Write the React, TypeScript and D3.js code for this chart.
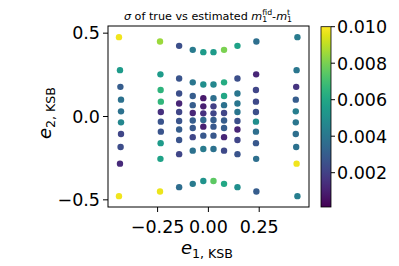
import React from "react";
import * as d3 from "d3";

// e1 of each point, one list per column (left to right), top row first
const e1ByCol = [
  [-0.44, -0.435, -0.433, -0.43, -0.43, -0.43, -0.43, -0.432, -0.435, -0.44],
  [-0.238, -0.236, -0.235, -0.234, -0.234, -0.234, -0.234, -0.235, -0.236, -0.238],
  [-0.144, -0.144, -0.144, -0.144, -0.144, -0.144, -0.144, -0.144, -0.144, -0.144],
  [-0.077, -0.077, -0.077, -0.077, -0.077, -0.077, -0.077, -0.077, -0.077, -0.077],
  [-0.025, -0.025, -0.025, -0.025, -0.025, -0.025, -0.025, -0.025, -0.025, -0.025],
  [0.025, 0.025, 0.025, 0.025, 0.025, 0.025, 0.025, 0.025, 0.025, 0.025],
  [0.077, 0.077, 0.077, 0.077, 0.077, 0.077, 0.077, 0.077, 0.077, 0.077],
  [0.143, 0.143, 0.143, 0.143, 0.143, 0.143, 0.143, 0.143, 0.143, 0.143],
  [0.236, 0.235, 0.234, 0.234, 0.234, 0.234, 0.234, 0.234, 0.235, 0.236],
  [0.438, 0.434, 0.432, 0.43, 0.43, 0.43, 0.43, 0.432, 0.434, 0.438],
];

const e2ByCol = [
  [0.476, 0.278, 0.178, 0.101, 0.031, -0.035, -0.105, -0.183, -0.283, -0.478],
  [0.45, 0.253, 0.159, 0.089, 0.027, -0.031, -0.091, -0.16, -0.254, -0.45],
  [0.424, 0.228, 0.138, 0.078, 0.027, -0.027, -0.078, -0.141, -0.226, -0.424],
  [0.4, 0.205, 0.123, 0.068, 0.021, -0.024, -0.069, -0.124, -0.205, -0.404],
  [0.386, 0.192, 0.11, 0.061, 0.019, -0.021, -0.061, -0.115, -0.195, -0.387],
  [0.386, 0.192, 0.11, 0.061, 0.019, -0.021, -0.061, -0.115, -0.195, -0.387],
  [0.4, 0.205, 0.123, 0.068, 0.021, -0.024, -0.069, -0.124, -0.205, -0.404],
  [0.424, 0.228, 0.138, 0.078, 0.027, -0.027, -0.078, -0.141, -0.226, -0.424],
  [0.45, 0.253, 0.159, 0.089, 0.027, -0.031, -0.091, -0.16, -0.254, -0.45],
  [0.476, 0.278, 0.178, 0.101, 0.031, -0.035, -0.105, -0.183, -0.283, -0.478],
];

const sigmaByCol = [
  [0.0098, 0.0055, 0.003, 0.0038, 0.0038, 0.0047, 0.0022, 0.0024, 0.0013, 0.0098],
  [0.0085, 0.0055, 0.0065, 0.0066, 0.0015, 0.0027, 0.0027, 0.0055, 0.0058, 0.0097],
  [0.0025, 0.0027, 0.0025, 0.0012, 0.0022, 0.0027, 0.003, 0.0027, 0.0022, 0.0036],
  [0.0042, 0.004, 0.003, 0.003, 0.0012, 0.003, 0.0028, 0.0022, 0.0038, 0.0042],
  [0.0055, 0.005, 0.0008, 0.001, 0.0015, 0.0035, 0.001, 0.0028, 0.0042, 0.0052],
  [0.0055, 0.0047, 0.0037, 0.002, 0.0022, 0.003, 0.0028, 0.0028, 0.0038, 0.0075],
  [0.008, 0.0062, 0.006, 0.0038, 0.0022, 0.003, 0.003, 0.0012, 0.0023, 0.006],
  [0.0058, 0.0025, 0.004, 0.004, 0.004, 0.0025, 0.0012, 0.0022, 0.0027, 0.005],
  [0.0037, 0.0012, 0.0022, 0.0023, 0.0025, 0.005, 0.0037, 0.0028, 0.0037, 0.003],
  [0.0042, 0.004, 0.0016, 0.003, 0.0043, 0.004, 0.0037, 0.0038, 0.0098, 0.0043],
];

const xTicks = [-0.25, 0, 0.25];
const yTicks = [-0.5, 0, 0.5];
const cbTicks = [0.002, 0.004, 0.006, 0.008, 0.01];
const vmin = 0.00012;
const vmax = 0.01;

const W = 399;
const H = 266;
const font = "DejaVu Sans";

const App = () => {
  // plot frame
  const left = 108, right = 309, top = 26, bottom = 207;
  const x = d3.scaleLinear().domain([-0.494, 0.495]).range([left, right]);
  const y = d3.scaleLinear().domain([-0.543, 0.543]).range([bottom, top]);
  const color = d3.scaleSequential(d3.interpolateViridis).domain([vmin, vmax]);

  // colorbar
  const cbX = 321, cbW = 10;
  const cb = d3.scaleLinear().domain([vmin, vmax]).range([bottom, top + 0.7]);

  const points = e1ByCol.flatMap((col, i) =>
    col.map((e1, j) => ({ e1, e2: e2ByCol[i][j], s: sigmaByCol[i][j] }))
  );

  const fx = d3.format(".2f");
  const fy = d3.format(".1f");
  const fc = d3.format(".3f");

  return (
    <svg
      width={W}
      height={H}
      style={{ position: "absolute", left: 0, top: 0, background: "#fff" }}
      fontFamily={font}
    >
      <defs>
        <linearGradient id="viridis" x1="0" y1="1" x2="0" y2="0">
          {d3.range(0, 1.001, 0.05).map((t) => (
            <stop key={t} offset={t} stopColor={d3.interpolateViridis(t)} />
          ))}
        </linearGradient>
      </defs>

      {/* title */}
      <text x={208} y={19.5} fontSize={11.2} textAnchor="middle" fill="#000">
        <tspan fontStyle="italic">σ</tspan>
        <tspan> of true vs estimated </tspan>
        <tspan fontStyle="italic">m</tspan>
        <tspan fontSize={7.8} dy={-4.5}>fid</tspan>
        <tspan fontSize={7.8} dx={-9.9} dy={7}>1</tspan>
        <tspan dx={4.9} dy={-2.5}>-</tspan>
        <tspan fontStyle="italic">m</tspan>
        <tspan fontSize={7.8} dy={-4.5}>t</tspan>
        <tspan fontSize={7.8} dx={-3.06} dy={7}>1</tspan>
      </text>

      {/* points */}
      {points.map((p, i) => (
        <circle key={i} cx={x(p.e1)} cy={y(p.e2)} r={3.2} fill={color(p.s)} />
      ))}

      {/* frame */}
      <rect x={left} y={top} width={right - left} height={bottom - top} fill="none" stroke="#000" strokeWidth={1} />

      {/* x axis */}
      {xTicks.map((t) => (
        <g key={t} transform={`translate(${x(t)},${bottom})`}>
          <line y2={5} stroke="#000" />
          <text y={26} fontSize={17.5} textAnchor="middle">{fx(t)}</text>
        </g>
      ))}
      <text x={207} y={254} fontSize={18} textAnchor="middle">
        <tspan fontStyle="italic">e</tspan>
        <tspan fontSize={12.6} dy={3.5}>1, KSB</tspan>
      </text>

      {/* y axis */}
      {yTicks.map((t) => (
        <g key={t} transform={`translate(${left},${y(t)})`}>
          <line x2={-5} stroke="#000" />
          <text x={-8} dy="0.36em" fontSize={17.5} textAnchor="end">{fy(t)}</text>
        </g>
      ))}
      <text transform="translate(51,113) rotate(-90)" fontSize={18} textAnchor="middle">
        <tspan fontStyle="italic">e</tspan>
        <tspan fontSize={12.6} dy={3.5}>2, KSB</tspan>
      </text>

      {/* colorbar */}
      <rect x={cbX} y={cb(vmax)} width={cbW} height={cb(vmin) - cb(vmax)} fill="url(#viridis)" />
      <rect x={cbX} y={cb(vmax)} width={cbW} height={cb(vmin) - cb(vmax)} fill="none" stroke="#000" strokeWidth={0.8} />
      {cbTicks.map((t) => (
        <g key={t} transform={`translate(${cbX + cbW},${cb(t)})`}>
          <line x2={4} stroke="#000" />
          <text x={6} dy="0.36em" fontSize={17.5}>{fc(t)}</text>
        </g>
      ))}
    </svg>
  );
};

export default App;
